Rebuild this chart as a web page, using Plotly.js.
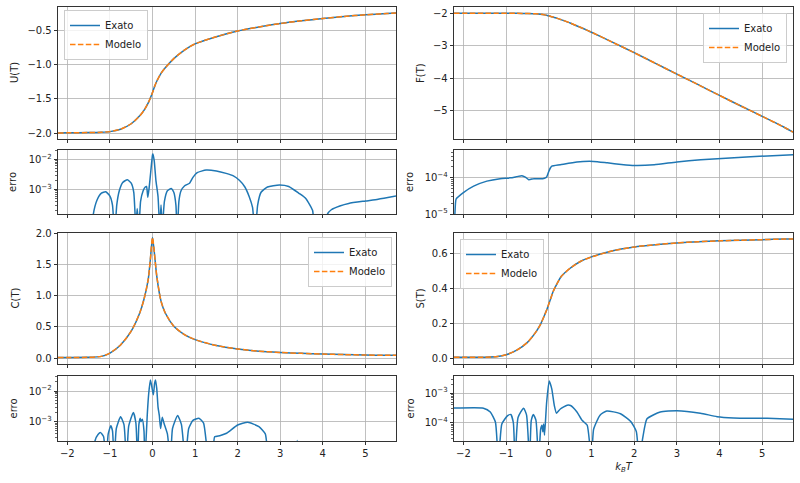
<!DOCTYPE html>
<html><head><meta charset="utf-8">
<script src="https://cdn.plot.ly/plotly-3.0.1.min.js"></script>
<style>html,body{margin:0;padding:0;background:#fff}#plot{width:800px;height:483px}</style>
</head><body><div id="plot"></div>
<script>
// ---------- data ----------
const xMain = [-2.22,-2.0,-1.5,-1.2,-1.0,-0.75,-0.5,-0.3,-0.2,-0.1,-0.05,0,0.05,0.1,0.2,0.3,0.5,0.75,1.0,1.5,2.0,2.5,3.0,3.5,4.0,4.5,5.0,5.5,5.72];
const U_exato = [-2.0,-1.998,-1.994,-1.989,-1.98,-1.945,-1.865,-1.75,-1.67,-1.56,-1.49,-1.41,-1.32,-1.245,-1.13,-1.05,-0.915,-0.79,-0.70,-0.595,-0.512,-0.453,-0.403,-0.364,-0.33,-0.3,-0.277,-0.258,-0.25];
const F_exato = [-2.0,-2.0,-2.0,-2.001,-2.003,-2.006,-2.011,-2.02,-2.033,-2.052,-2.066,-2.083,-2.1,-2.12,-2.16,-2.205,-2.3,-2.44,-2.585,-2.9,-3.215,-3.545,-3.875,-4.2,-4.53,-4.855,-5.175,-5.5,-5.66];
const C_exato = [0.01,0.01,0.012,0.027,0.08,0.21,0.43,0.72,0.94,1.26,1.58,1.93,1.64,1.31,0.91,0.72,0.51,0.375,0.295,0.2,0.145,0.11,0.09,0.075,0.064,0.055,0.048,0.044,0.043];
const S_exato = [0.004,0.004,0.005,0.009,0.019,0.045,0.09,0.15,0.19,0.245,0.275,0.31,0.345,0.38,0.43,0.47,0.515,0.555,0.58,0.615,0.637,0.65,0.66,0.667,0.672,0.676,0.679,0.682,0.683];
const U_modelo = U_exato.slice();
const F_modelo = F_exato.slice();
const C_modelo = C_exato.slice();
const S_modelo = S_exato.slice();

const errU_x = [-1.45,-1.39,-1.3,-1.2,-1.1,-1.0,-0.94,-0.89,-0.84,-0.78,-0.7,-0.59,-0.5,-0.44,-0.39,-0.36,-0.32,-0.28,-0.22,-0.17,-0.14,-0.11,-0.08,-0.04,0.0,0.01,0.04,0.08,0.13,0.17,0.2,0.23,0.28,0.35,0.44,0.5,0.55,0.58,0.62,0.67,0.75,0.87,0.95,1.05,1.26,1.5,1.73,1.9,2.04,2.17,2.27,2.35,2.41,2.47,2.55,2.7,2.98,3.2,3.44,3.6,3.76,3.83,4.05,4.11,4.2,4.4,4.61,5.0,5.3,5.72];
const errU_y = [1e-5,1.5e-4,4.5e-4,7.5e-4,8.3e-4,6e-4,3e-4,3e-5,3e-4,9e-4,1.7e-3,2.1e-3,1.6e-3,8e-4,5e-5,2.3e-4,5e-5,4e-4,9e-4,1.2e-3,1.25e-3,5.5e-4,1.1e-3,4e-3,1.4e-2,1.5e-2,9e-3,2e-3,5.7e-4,5e-5,3e-4,5e-5,4e-4,9e-4,1.07e-3,8e-4,3e-4,3e-5,4e-4,9e-4,1.3e-3,1.6e-3,2.5e-3,3.6e-3,4.4e-3,4.1e-3,3.4e-3,2.8e-3,2.0e-3,1.2e-3,5.8e-4,2.5e-4,3e-5,3e-4,8e-4,1.2e-3,1.4e-3,1.25e-3,7.4e-4,5e-4,2e-4,3e-5,3e-5,1.5e-4,2.1e-4,2.8e-4,3.4e-4,4.1e-4,4.7e-4,6e-4];

const errF_x = [-2.25,-2.2,-2.17,-2.0,-1.76,-1.45,-1.14,-0.9,-0.75,-0.63,-0.55,-0.47,-0.35,-0.2,-0.1,-0.05,0.0,0.04,0.07,0.27,0.66,1.05,1.37,1.7,2.0,2.47,3.0,3.56,4.34,5.12,5.73];
const errF_y = [5e-6,1.0e-5,2.6e-5,3.9e-5,5.9e-5,8.1e-5,9.5e-5,1.0e-4,1.08e-4,1.15e-4,1.05e-4,8.9e-5,9.5e-5,9.4e-5,9.8e-5,1.05e-4,1.5e-4,1.9e-4,2.1e-4,2.3e-4,2.75e-4,2.85e-4,2.6e-4,2.35e-4,2.2e-4,2.3e-4,2.75e-4,3.15e-4,3.6e-4,4.05e-4,4.35e-4];

const errC_x = [-1.4,-1.35,-1.28,-1.22,-1.15,-1.09,-1.04,-0.98,-0.94,-0.9,-0.85,-0.75,-0.67,-0.61,-0.56,-0.45,-0.39,-0.35,-0.32,-0.29,-0.27,-0.24,-0.2,-0.18,-0.12,-0.09,-0.05,-0.02,0.02,0.05,0.07,0.1,0.13,0.16,0.19,0.23,0.27,0.35,0.42,0.47,0.59,0.68,0.77,0.85,0.95,1.09,1.2,1.33,1.4,1.46,1.58,1.74,2.0,2.24,2.5,2.65,2.75,3.35,3.4,3.45];
const errC_y = [5e-5,2.4e-4,3.8e-4,4.4e-4,3.3e-4,5e-5,4e-4,7.4e-4,5e-4,5e-5,6e-4,1.45e-3,8e-4,5e-5,7e-4,2e-3,9e-4,5e-5,8e-4,1.3e-3,1e-3,1.2e-3,5e-4,5e-5,2e-3,8e-3,2.3e-2,1.5e-2,7.5e-3,1.8e-2,2.3e-2,1.2e-2,3e-3,1.6e-3,6e-4,1.4e-3,8.9e-4,4e-4,5e-5,6e-4,1.6e-3,8e-4,5e-5,6e-4,1.1e-3,1.3e-3,9e-4,5e-5,5e-5,3.2e-4,3.5e-4,4.2e-4,7.8e-4,9.5e-4,6.9e-4,4e-4,5e-5,1e-5,2.45e-4,1e-5];

const errS_x = [-2.25,-1.53,-1.37,-1.25,-1.18,-1.1,-0.97,-0.89,-0.83,-0.79,-0.72,-0.59,-0.52,-0.45,-0.41,-0.36,-0.3,-0.24,-0.19,-0.16,-0.14,-0.12,-0.1,-0.05,0.01,0.07,0.13,0.18,0.27,0.43,0.51,0.66,0.78,0.9,1.0,1.05,1.2,1.36,1.68,1.92,2.05,2.12,2.2,2.3,2.61,3.0,3.55,3.94,4.33,5.12,5.73];
const errS_y = [3.1e-4,3.1e-4,2.3e-4,1.05e-4,5e-6,9e-5,1.7e-4,1.9e-4,1e-4,5e-6,1.5e-4,3.1e-4,1.8e-4,5e-6,1.2e-4,1.9e-4,1.2e-4,5e-6,6e-5,8.2e-5,4.9e-5,9e-5,3.8e-5,4.9e-4,2.6e-3,1.4e-3,3.8e-4,2.1e-4,2.9e-4,3.9e-4,3.8e-4,2.3e-4,1.2e-4,8.2e-5,5e-6,6e-5,1.8e-4,2.5e-4,2e-4,1.1e-4,5e-5,5e-6,3e-5,1.35e-4,2.3e-4,2.55e-4,2.1e-4,1.6e-4,1.45e-4,1.4e-4,1.3e-4];

const xTicks = [-2,-1,0,1,2,3,4,5];
const seriesNames = ['Exato','Modelo'];
const yLabels = ['U(T)','F(T)','erro','erro','C(T)','S(T)','erro','erro'];

// ---------- styling ----------
const BLUE = '#1f77b4', ORANGE = '#ff7f0e';
const FONT = {family:'DejaVu Sans, sans-serif', size:10, color:'#222'};
const W = 800, H = 483;
const colX = [[58/W, 396/W],[454/W, 793/W]];
const rowY = {
  m1:[1-139/H, 1-7/H], e1:[1-214/H, 1-150/H],
  m2:[1-364/H, 1-233/H], e2:[1-441/H, 1-376/H]
};
const traces = [];
const DASH = '5.5px,2.4px';
function mainTraces(n, x, ye, ym, legendId){
  const xa = 'x'+(n===1?'':n), ya = 'y'+(n===1?'':n);
  traces.push({x:x, y:ye, name:seriesNames[0], type:'scatter', mode:'lines', xaxis:xa, yaxis:ya,
    line:{color:BLUE, width:1.5, shape:'spline', smoothing:0.6}, legend:legendId});
  traces.push({x:x, y:ym, name:seriesNames[1], type:'scatter', mode:'lines', xaxis:xa, yaxis:ya,
    line:{color:ORANGE, width:1.5, dash:DASH, shape:'spline', smoothing:0.6}, legend:legendId});
}
function errTrace(n, x, y){
  traces.push({x:x, y:y, type:'scatter', mode:'lines', xaxis:'x'+n, yaxis:'y'+n, showlegend:false,
    line:{color:BLUE, width:1.5, shape:'spline', smoothing:0.5}});
}
mainTraces(1, xMain, U_exato, U_modelo, 'legend');
mainTraces(2, xMain, F_exato, F_modelo, 'legend2');
errTrace(3, errU_x, errU_y);
errTrace(4, errF_x, errF_y);
mainTraces(5, xMain, C_exato, C_modelo, 'legend3');
mainTraces(6, xMain, S_exato, S_modelo, 'legend4');
errTrace(7, errC_x, errC_y);
errTrace(8, errS_x, errS_y);

function xax(col, anchor, labels, title){
  const a = {domain:colX[col], anchor:anchor, range:[-2.22,5.72], tickmode:'array', tickvals:xTicks,
    showticklabels:labels, ticks:'outside', ticklen:3.5, tickwidth:0.8, tickcolor:'#000',
    showline:true, linecolor:'#000', linewidth:0.8, mirror:true, showgrid:true, gridcolor:'#b0b0b0', gridwidth:0.8,
    zeroline:false, tickfont:FONT};
  if(title) a.title = {text:title, font:FONT, standoff:4};
  return a;
}
function yax(dom, anchor, range, tickvals, ticktext, log){
  const a = {domain:dom, anchor:anchor, range:range, tickmode:'array', tickvals:tickvals, ticktext:ticktext,
    ticks:'outside', ticklen:3.5, tickwidth:0.8, tickcolor:'#000', showline:true, linecolor:'#000', linewidth:0.8,
    mirror:true, showgrid:true, gridcolor:'#b0b0b0', gridwidth:0.8, zeroline:false, tickfont:FONT};
  if(log) a.type='log';
  return a;
}
// minor log ticks drawn by an overlaying axis with no labels
function minorVals(range){
  const v = [];
  for(let e=Math.floor(range[0]); e<=Math.ceil(range[1]); e++)
    for(let d=2; d<=9; d++){ const t=d*Math.pow(10,e); const l=Math.log10(t); if(l>=range[0]&&l<=range[1]) v.push(t); }
  return v;
}
function minorAx(over, anchor, range){
  return {overlaying:over, anchor:anchor, side:'left', type:'log', range:range, tickmode:'array', tickvals:minorVals(range),
    ticks:'outside', ticklen:2, tickwidth:0.6, tickcolor:'#000', showticklabels:false, showgrid:false, showline:false, zeroline:false};
}
const sup = e => '10<sup>\u2212'+e+'</sup>';
const legendBase = {bgcolor:'rgba(255,255,255,0.8)', bordercolor:'#cccccc', borderwidth:1, font:FONT, tracegroupgap:0, itemwidth:30};

const R3=[-3.82,-1.69], R4=[-5.0,-3.23], R7=[-3.63,-1.51], R8=[-4.62,-2.42];
const layout = {
  width:W, height:H, margin:{l:0,r:0,t:0,b:0}, paper_bgcolor:'#fff', plot_bgcolor:'#fff', font:FONT,
  xaxis: xax(0,'y',false), yaxis: yax(rowY.m1,'x',[-2.0875,-0.1625],[-2,-1.5,-1,-0.5],['\u22122.0','\u22121.5','\u22121.0','\u22120.5']),
  xaxis2: xax(1,'y2',false), yaxis2: yax(rowY.m1,'x2',[-5.87,-1.81],[-5,-4,-3,-2],['\u22125','\u22124','\u22123','\u22122']),
  xaxis3: xax(0,'y3',false), yaxis3: yax(rowY.e1,'x3',R3,[1e-3,1e-2],[sup(3),sup(2)],true),
  xaxis4: xax(1,'y4',false), yaxis4: yax(rowY.e1,'x4',R4,[1e-5,1e-4],[sup(5),sup(4)],true),
  xaxis5: xax(0,'y5',false), yaxis5: yax(rowY.m2,'x5',[-0.095,2.0],[0,0.5,1,1.5,2],['0.0','0.5','1.0','1.5','2.0']),
  xaxis6: xax(1,'y6',false), yaxis6: yax(rowY.m2,'x6',[-0.034,0.717],[0,0.2,0.4,0.6],['0.0','0.2','0.4','0.6']),
  xaxis7: xax(0,'y7',true), yaxis7: yax(rowY.e2,'x7',R7,[1e-3,1e-2],[sup(3),sup(2)],true),
  xaxis8: xax(1,'y8',true,'<i>k<sub>B</sub>T</i>'), yaxis8: yax(rowY.e2,'x8',R8,[1e-4,1e-3],[sup(4),sup(3)],true),
  yaxis9: minorAx('y3','x3',R3), yaxis10: minorAx('y4','x4',R4), yaxis11: minorAx('y7','x7',R7), yaxis12: minorAx('y8','x8',R8),
  legend: Object.assign({x:64/W, y:1-10/H, xanchor:'left', yanchor:'top'}, legendBase),
  legend2: Object.assign({x:787/W, y:1-13/H, xanchor:'right', yanchor:'top'}, legendBase),
  legend3: Object.assign({x:392/W, y:1-237/H, xanchor:'right', yanchor:'top'}, legendBase),
  legend4: Object.assign({x:460/W, y:1-239/H, xanchor:'left', yanchor:'top'}, legendBase),
  showlegend:true,
  annotations: []
};
// invisible anchor traces so the minor-tick axes are drawn
[['x3','y9',R3],['x4','y10',R4],['x7','y11',R7],['x8','y12',R8]].forEach(p=>{
  traces.push({x:[0], y:[Math.pow(10,p[2][0])], xaxis:p[0], yaxis:p[1], type:'scatter', mode:'lines', showlegend:false, hoverinfo:'skip', line:{width:0}});
});
// y-axis labels, aligned per column as in the reference
const labelX = [14,420,13,410,15,420,13,410];
const labelRow = ['m1','m1','e1','e1','m2','m2','e2','e2'];
yLabels.forEach((t,i)=>{
  const d = rowY[labelRow[i]];
  layout.annotations.push({text:t, xref:'paper', yref:'paper', x:labelX[i]/W, y:(d[0]+d[1])/2, textangle:-90,
    showarrow:false, font:FONT, xanchor:'center', yanchor:'middle'});
});
Plotly.newPlot('plot', traces, layout, {staticPlot:true, displayModeBar:false});
</script></body></html>
